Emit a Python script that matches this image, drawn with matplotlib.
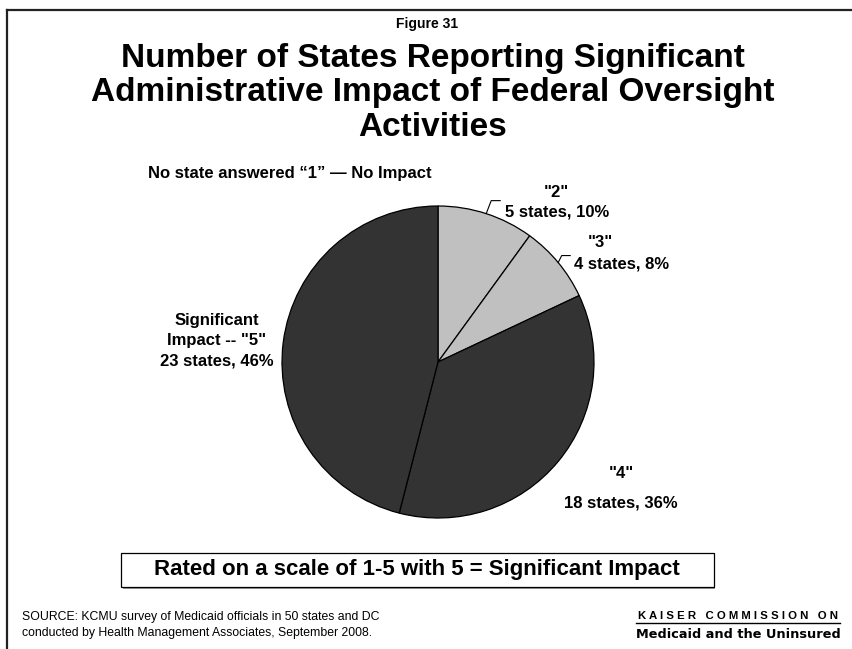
import matplotlib
matplotlib.use("Agg")
import matplotlib.pyplot as plt
import numpy as np
from matplotlib.patches import Rectangle
from matplotlib.lines import Line2D

W, H = 853, 649

# Survey ratings (scale 1-5), drawn clockwise from 12 o'clock
ratings = ['"2"', '"3"', '"4"', 'Significant\nImpact -- "5"']
states = [5, 4, 18, 23]
shares = [10, 8, 36, 46]
colors = ['#c0c0c0', '#c0c0c0', '#333333', '#333333']

title_lines = ["Number of States Reporting Significant",
               "Administrative Impact of Federal Oversight",
               "Activities"]

plt.rcParams['font.family'] = ['Liberation Sans', 'DejaVu Sans']

fig = plt.figure(figsize=(W / 100, H / 100), dpi=100)


def fx(x):
    return x / W


def fy(y):
    return 1 - y / H


# page frame (top and left rules)
fig.add_artist(Line2D([fx(7), fx(7)], [fy(9.5), fy(H)], color='#222222', lw=1.6))
fig.add_artist(Line2D([fx(7), fx(W)], [fy(9.5), fy(9.5)], color='#222222', lw=1.6))

# headings
fig.text(fx(427), fy(24), "Figure 31", ha='center', va='center',
         fontsize=10, fontweight='bold')
for i, line in enumerate(title_lines):
    fig.text(fx(433), fy(58 + 34.5 * i), line, ha='center', va='center',
             fontsize=24, fontweight='bold')

fig.text(fx(148), fy(173), "No state answered \u201c1\u201d \u2014 No Impact",
         ha='left', va='center', fontsize=12, fontweight='bold')

# pie chart
cx, cy, r_px, half = 438, 362, 156, 162
ax = fig.add_axes([fx(cx - half), fy(cy + half), 2 * half / W, 2 * half / H])
lim = half / r_px
wedges, _ = ax.pie(states, colors=colors, startangle=90, counterclock=False,
                   radius=1, wedgeprops=dict(edgecolor='black', linewidth=0.9))
ax.set_xlim(-lim, lim)
ax.set_ylim(-lim, lim)
ax.set_aspect('equal')
ax.axis('off')

px = 1 / r_px  # one pixel in pie units


def rim(w):
    a = np.deg2rad((w.theta1 + w.theta2) / 2)
    return np.cos(a), np.sin(a)

# leader lines for the two small slices
x0, y0 = rim(wedges[0])
ax.plot([x0, x0 + 5 * px, x0 + 14 * px], [y0, y0 + 13 * px, y0 + 13 * px],
        color='black', lw=0.8, clip_on=False)
x1, y1 = rim(wedges[1])
ax.plot([x1, x1 + 3.5 * px, x1 + 12 * px], [y1, y1 + 7 * px, y1 + 7 * px],
        color='black', lw=0.8, clip_on=False)

lab = dict(fontsize=12, fontweight='bold', va='center')
fig.text(fx(556), fy(192), ratings[0], ha='center', **lab)
fig.text(fx(505), fy(212), f"{states[0]} states, {shares[0]}%", ha='left', **lab)
fig.text(fx(600), fy(243), ratings[1], ha='center', **lab)
fig.text(fx(574), fy(264), f"{states[1]} states, {shares[1]}%", ha='left', **lab)
fig.text(fx(621), fy(473), ratings[2], ha='center', **lab)
fig.text(fx(621), fy(503), f"{states[2]} states, {shares[2]}%", ha='center', **lab)
fig.text(fx(217), fy(341), f"{ratings[3]}\n{states[3]} states, {shares[3]}%",
         ha='center', linespacing=1.45, multialignment='center', **lab)

# scale note box
fig.add_artist(Rectangle((fx(123), fy(589)), fx(715) - fx(123), fy(555) - fy(589),
                         transform=fig.transFigure, facecolor='#9a9a9a',
                         edgecolor='none'))
fig.add_artist(Rectangle((fx(121), fy(587)), fx(714) - fx(121), fy(553) - fy(587),
                         transform=fig.transFigure, facecolor='white',
                         edgecolor='black', lw=0.9))
fig.text(fx(417), fy(570), "Rated on a scale of 1-5 with 5 = Significant Impact",
         ha='center', va='center', fontsize=16, fontweight='bold')

# footer
fig.text(fx(22), fy(617), "SOURCE: KCMU survey of Medicaid officials in 50 states and DC",
         ha='left', va='center', fontsize=8.8)
fig.text(fx(22), fy(633), "conducted by Health Management Associates, September 2008.",
         ha='left', va='center', fontsize=8.8)

fig.text(fx(738), fy(616), "K A I S E R   C O M M I S S I O N   O N",
         ha='center', va='center', fontsize=8.2, fontweight='bold')
fig.add_artist(Line2D([fx(636), fx(840)], [fy(622.5), fy(622.5)], color='black', lw=1.0))
fig.text(fx(738), fy(634), "Medicaid and the Uninsured", ha='center', va='center',
         fontsize=9.3, fontweight='bold', family=['DejaVu Sans'])

fig.savefig("out.png", dpi=100)
